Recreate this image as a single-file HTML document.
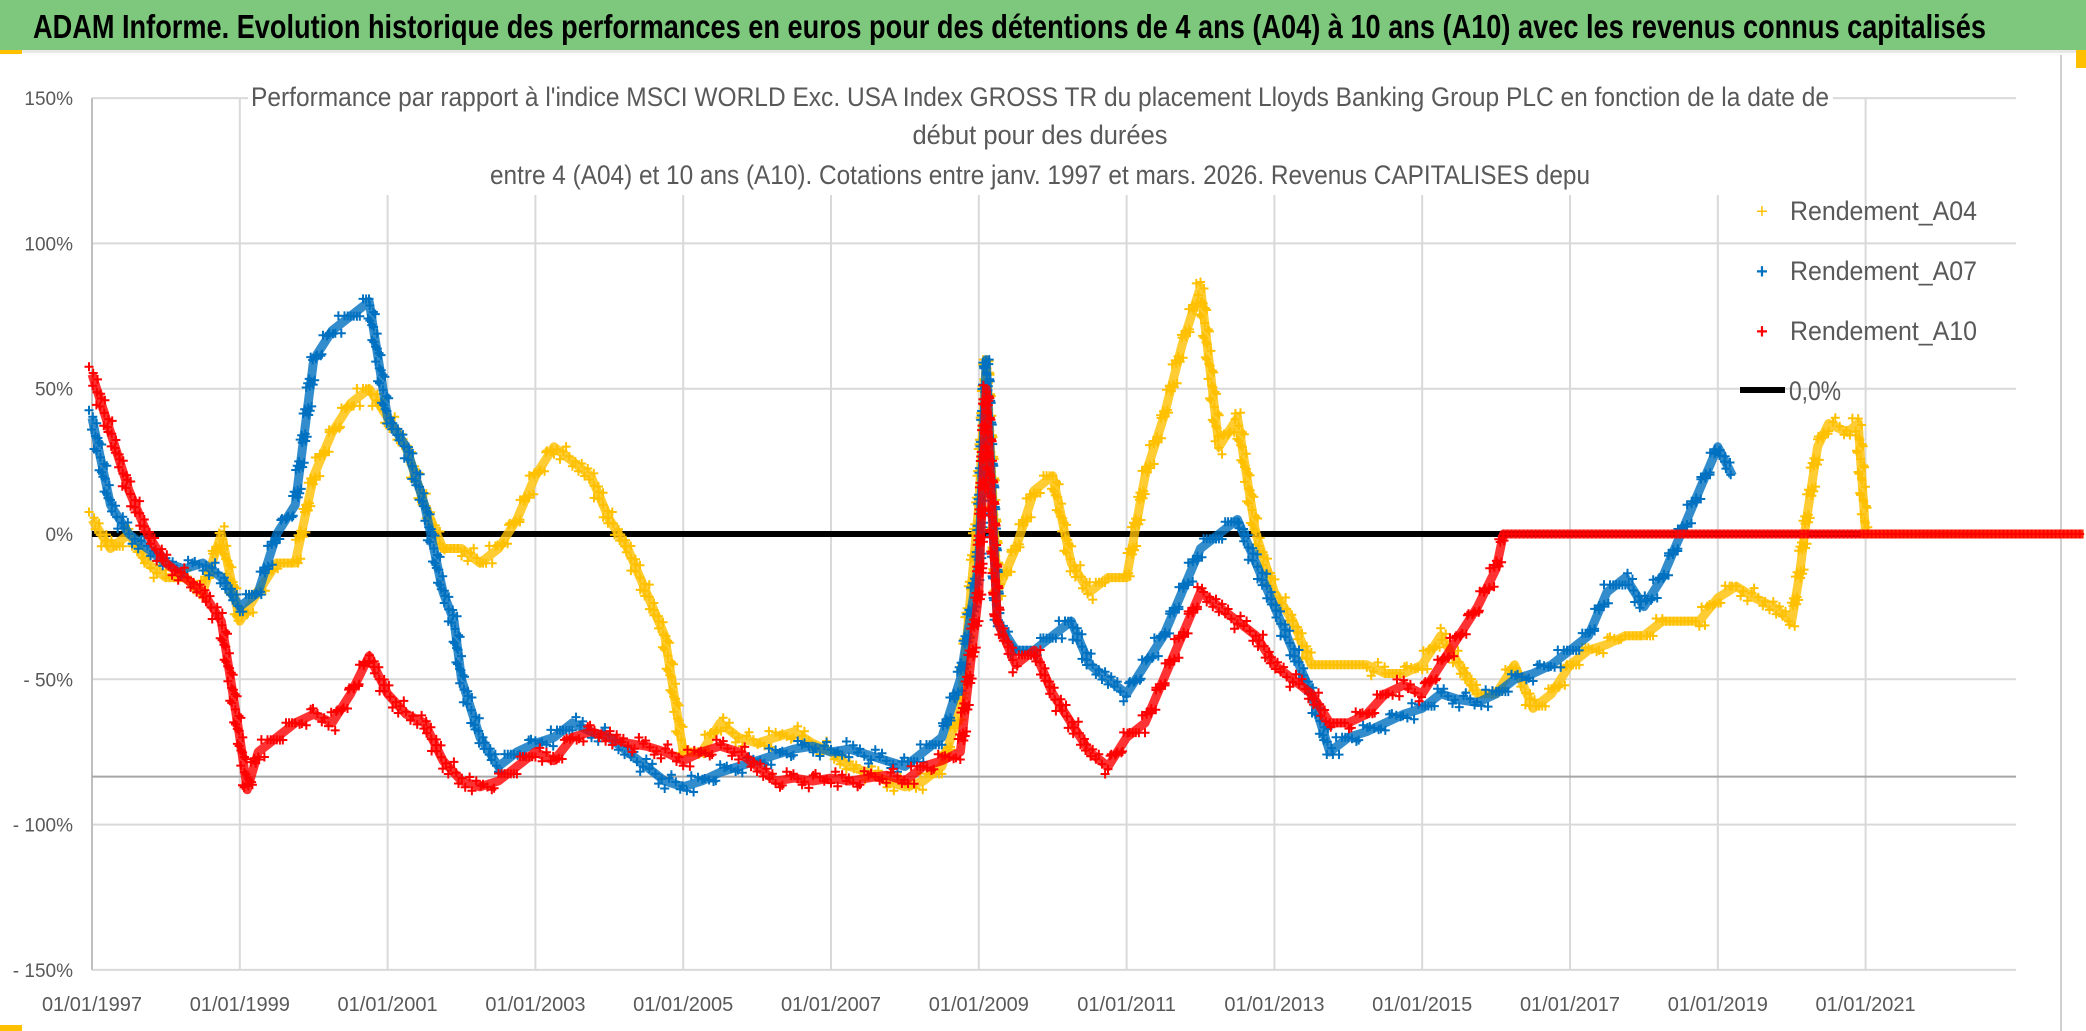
<!DOCTYPE html>
<html><head><meta charset="utf-8"><style>
html,body{margin:0;padding:0;background:#fff;width:2086px;height:1031px;overflow:hidden}
svg{display:block}
text{font-family:"Liberation Sans Narrow","Liberation Sans",sans-serif}
</style></head><body>
<svg id="chart" width="2086" height="1031" viewBox="0 0 2086 1031">
<rect x="0" y="0" width="2086" height="1031" fill="#fff"/>
<rect x="0" y="0" width="2086" height="50" fill="#7dc87d"/>
<rect x="0" y="50" width="2086" height="3" fill="#e8e8e8"/>
<rect x="0" y="50" width="22" height="4" fill="#ffc000"/>
<text x="33" y="38" font-size="33" font-weight="bold" fill="#000" textLength="1953" lengthAdjust="spacingAndGlyphs">ADAM Informe. Evolution historique des performances en euros pour des détentions de 4 ans (A04) à 10 ans (A10) avec les revenus connus capitalisés</text>
<line x1="2061" y1="55" x2="2061" y2="1031" stroke="#d0d0d0" stroke-width="2"/>
<rect x="2076" y="50" width="10" height="18" fill="#ffc000"/>
<rect x="0" y="1025" width="22" height="6" fill="#ffc000"/>
<g id="grid"></g>
<g id="yaxis"></g>
<g id="xaxis"></g>
<line id="refline" stroke="#a6a6a6" stroke-width="2"/>
<rect x="248" y="70" width="1585" height="125" fill="#fff"/>
<g fill="#595959" font-size="27">
<text x="251" y="106" textLength="1578" lengthAdjust="spacingAndGlyphs">Performance par rapport à l'indice MSCI WORLD Exc. USA Index GROSS TR  du placement Lloyds Banking Group PLC en fonction de la date de</text>
<text x="1040" y="144" text-anchor="middle" textLength="255" lengthAdjust="spacingAndGlyphs">début pour des durées</text>
<text x="490" y="184" textLength="1100" lengthAdjust="spacingAndGlyphs">entre 4 (A04) et 10 ans (A10). Cotations entre janv. 1997 et mars. 2026. Revenus CAPITALISES depu</text>
</g>
<line id="zeroline" stroke="#000" stroke-width="6"/>
<g id="series"></g>
<g font-size="27" fill="#595959">
<g><text x="1762" y="218" font-size="20" fill="#ffc000" text-anchor="middle">+</text><text x="1790" y="220" textLength="187" lengthAdjust="spacingAndGlyphs">Rendement_A04</text></g>
<g><text x="1762" y="278" font-size="20" fill="#0070c0" font-weight="bold" text-anchor="middle">+</text><text x="1790" y="280" textLength="187" lengthAdjust="spacingAndGlyphs">Rendement_A07</text></g>
<g><text x="1762" y="338" font-size="20" fill="#ff0000" font-weight="bold" text-anchor="middle">+</text><text x="1790" y="340" textLength="187" lengthAdjust="spacingAndGlyphs">Rendement_A10</text></g>
<g><line x1="1740" y1="390" x2="1785" y2="390" stroke="#000" stroke-width="6"/><text x="1789" y="400" textLength="52" lengthAdjust="spacingAndGlyphs">0,0%</text></g>
</g>
</svg>
<script>
const yTicks=[150,100,50,0,-50,-100,-150];
const yTickLabels=["150%","100%","50%","0%","- 50%","- 100%","- 150%"];
const xTicks=[1997,1999,2001,2003,2005,2007,2009,2011,2013,2015,2017,2019,2021];
const xTickLabels=["01/01/1997","01/01/1999","01/01/2001","01/01/2003","01/01/2005","01/01/2007","01/01/2009","01/01/2011","01/01/2013","01/01/2015","01/01/2017","01/01/2019","01/01/2021"];
const refValue=-83.5;
const a04Years=[1997,1997.25,1997.5,1997.75,1998,1998.25,1998.5,1998.75,1999,1999.25,1999.5,1999.75,2000,2000.25,2000.5,2000.75,2001,2001.25,2001.5,2001.75,2002,2002.25,2002.5,2002.75,2003,2003.25,2003.5,2003.75,2004,2004.25,2004.5,2004.75,2005,2005.25,2005.5,2005.75,2006,2006.25,2006.5,2006.75,2007,2007.25,2007.5,2007.75,2008,2008.25,2008.5,2008.75,2009,2009.1,2009.25,2009.5,2009.75,2010,2010.25,2010.5,2010.75,2011,2011.25,2011.5,2011.75,2012,2012.25,2012.5,2012.75,2013,2013.25,2013.5,2013.75,2014,2014.25,2014.5,2014.75,2015,2015.25,2015.5,2015.75,2016,2016.25,2016.5,2016.75,2017,2017.25,2017.5,2017.75,2018,2018.25,2018.5,2018.75,2019,2019.25,2019.5,2019.75,2020,2020.1,2020.2,2020.35,2020.5,2020.75,2020.9,2021.0,2022,2023,2023.95];
const a04Values=[5,-5,0,-10,-15,-15,-20,0,-30,-20,-10,-10,20,35,45,50,40,30,10,-5,-5,-10,-5,5,20,30,25,20,5,-5,-20,-35,-75,-75,-65,-70,-72,-70,-68,-72,-75,-80,-82,-85,-87,-85,-80,-60,10,60,-20,-5,15,20,-10,-20,-15,-15,20,40,65,85,30,40,0,-20,-30,-45,-45,-45,-45,-48,-48,-45,-35,-45,-55,-55,-45,-60,-55,-45,-40,-38,-35,-35,-30,-30,-30,-22,-18,-22,-25,-30,-15,5,30,38,35,38,0,0,0,0];
const a07Years=[1997,1997.25,1997.5,1997.75,1998,1998.25,1998.5,1998.75,1999,1999.25,1999.5,1999.75,2000,2000.25,2000.5,2000.75,2001,2001.25,2001.5,2001.75,2001.9,2002,2002.25,2002.5,2002.75,2003,2003.25,2003.5,2003.75,2004,2004.25,2004.5,2004.75,2005,2005.25,2005.5,2005.75,2006,2006.25,2006.5,2006.75,2007,2007.25,2007.5,2007.75,2008,2008.25,2008.5,2008.75,2009,2009.1,2009.25,2009.5,2009.75,2010,2010.25,2010.5,2010.75,2011,2011.25,2011.5,2011.75,2012,2012.25,2012.5,2012.75,2013,2013.25,2013.5,2013.75,2014,2014.25,2014.5,2014.75,2015,2015.25,2015.5,2015.75,2016,2016.25,2016.5,2016.75,2017,2017.25,2017.5,2017.75,2018,2018.25,2018.5,2018.75,2019,2019.2];
const a07Values=[40,10,0,-5,-10,-12,-10,-15,-25,-20,0,10,60,70,75,80,40,30,10,-20,-30,-50,-70,-80,-75,-72,-70,-65,-68,-70,-75,-80,-85,-87,-85,-82,-80,-78,-76,-74,-73,-75,-74,-76,-78,-80,-75,-70,-50,-10,60,-30,-40,-40,-35,-30,-45,-50,-55,-45,-35,-20,-5,0,5,-10,-25,-40,-55,-75,-70,-68,-65,-62,-60,-55,-57,-58,-55,-50,-48,-45,-40,-35,-20,-15,-25,-15,0,15,30,20];
const a10Years=[1997,1997.25,1997.5,1997.75,1998,1998.25,1998.5,1998.75,1999,1999.1,1999.25,1999.5,1999.75,2000,2000.25,2000.5,2000.75,2001,2001.25,2001.5,2001.75,2002,2002.25,2002.5,2002.75,2003,2003.25,2003.5,2003.75,2004,2004.25,2004.5,2004.75,2005,2005.25,2005.5,2005.75,2006,2006.25,2006.5,2006.75,2007,2007.25,2007.5,2007.75,2008,2008.25,2008.5,2008.75,2009,2009.1,2009.25,2009.5,2009.75,2010,2010.25,2010.5,2010.75,2011,2011.25,2011.5,2011.75,2012,2012.25,2012.5,2012.75,2013,2013.25,2013.5,2013.75,2014,2014.25,2014.5,2014.75,2015,2015.25,2015.5,2015.75,2016,2016.1,2018,2020,2022,2023.95];
const a10Values=[55,35,15,0,-10,-15,-20,-30,-70,-88,-75,-70,-65,-62,-65,-55,-42,-55,-62,-65,-78,-85,-87,-85,-80,-75,-78,-70,-68,-70,-72,-73,-75,-78,-75,-73,-75,-80,-85,-84,-85,-84,-85,-84,-83,-85,-80,-78,-75,-20,50,-30,-45,-40,-55,-65,-75,-80,-70,-65,-50,-35,-20,-25,-30,-35,-45,-50,-55,-65,-65,-62,-55,-52,-55,-45,-35,-25,-12,0,0,0,0,0];

const NS="http://www.w3.org/2000/svg";
const X0=92, PXY=73.9, Y0=534, PXP=2.906, RIGHT=2016;
function xs(yr){return X0+(yr-1997)*PXY;}
function ys(v){return Y0-v*PXP;}
function mk(tag,attrs,parent){const e=document.createElementNS(NS,tag);for(const k in attrs)e.setAttribute(k,attrs[k]);parent.appendChild(e);return e;}

const grid=document.getElementById('grid');
yTicks.forEach((t,i)=>{
  const l=mk('line',{x1:X0,x2:RIGHT,y1:ys(t),y2:ys(t),stroke:'#d9d9d9','stroke-width':2},grid);
  
  
  const tx=mk('text',{x:73,y:ys(t)+7,'text-anchor':'end','font-size':19,fill:'#595959'},document.getElementById('yaxis'));
  tx.textContent=yTickLabels[i];
  
  
});
xTicks.forEach((t,i)=>{
  const l=mk('line',{x1:xs(t),x2:xs(t),y1:ys(150),y2:ys(-150),stroke:'#d9d9d9','stroke-width':2},grid);
  
  
  const tx=mk('text',{x:xs(t),y:1011,'text-anchor':'middle','font-size':20,fill:'#595959'},document.getElementById('xaxis'));
  tx.textContent=xTickLabels[i];
  
  
});
const ax=mk('line',{x1:X0,x2:X0,y1:ys(150),y2:ys(-150),stroke:'#bfbfbf','stroke-width':2},grid);


const rl=document.getElementById('refline');
rl.setAttribute('x1',X0);rl.setAttribute('x2',RIGHT);rl.setAttribute('y1',ys(refValue));rl.setAttribute('y2',ys(refValue));
const zl=document.getElementById('zeroline');
zl.setAttribute('x1',X0);zl.setAttribute('x2',RIGHT);zl.setAttribute('y1',ys(0));zl.setAttribute('y2',ys(0));

const sl=document.getElementById('series');
function drawSeries(years,vals,color,name){
  const g=mk('g',{},sl);
  
  
  const pts=years.map((y,i)=>[xs(y),ys(vals[i])]);
  const pl=mk('polyline',{points:pts.map(p=>p.join(',')).join(' '),fill:'none',stroke:color,'stroke-width':9,'stroke-linejoin':'round',opacity:0.8},g);
  
  
  let d='';let k=0;
  for(let i=0;i<pts.length-1;i++){
    const [x1,y1]=pts[i],[x2,y2]=pts[i+1];
    const flat=Math.abs(y2-y1)<0.5;
    const len=Math.hypot(x2-x1,y2-y1);const n=Math.max(1,Math.round(len/4));
    for(let j=0;j<n;j++){
      const t=j/n;
      const jx=flat?0:((k%3)-1)*3, jy=flat?0:((k%7)-3)*2.5;
      const px=x1+(x2-x1)*t+jx;const py=y1+(y2-y1)*t+jy;k++;
      d+=`M${(px-4.5).toFixed(1)} ${py.toFixed(1)}h9M${px.toFixed(1)} ${(py-4.5).toFixed(1)}v9`;
    }
  }
  const p=mk('path',{d:d,stroke:color,'stroke-width':2,fill:'none'},g);
  
  
}
drawSeries(a04Years,a04Values,'#ffc000','series-a04');
drawSeries(a07Years,a07Values,'#0070c0','series-a07');
drawSeries(a10Years,a10Values,'#ff0000','series-a10');
</script>
</body></html>
